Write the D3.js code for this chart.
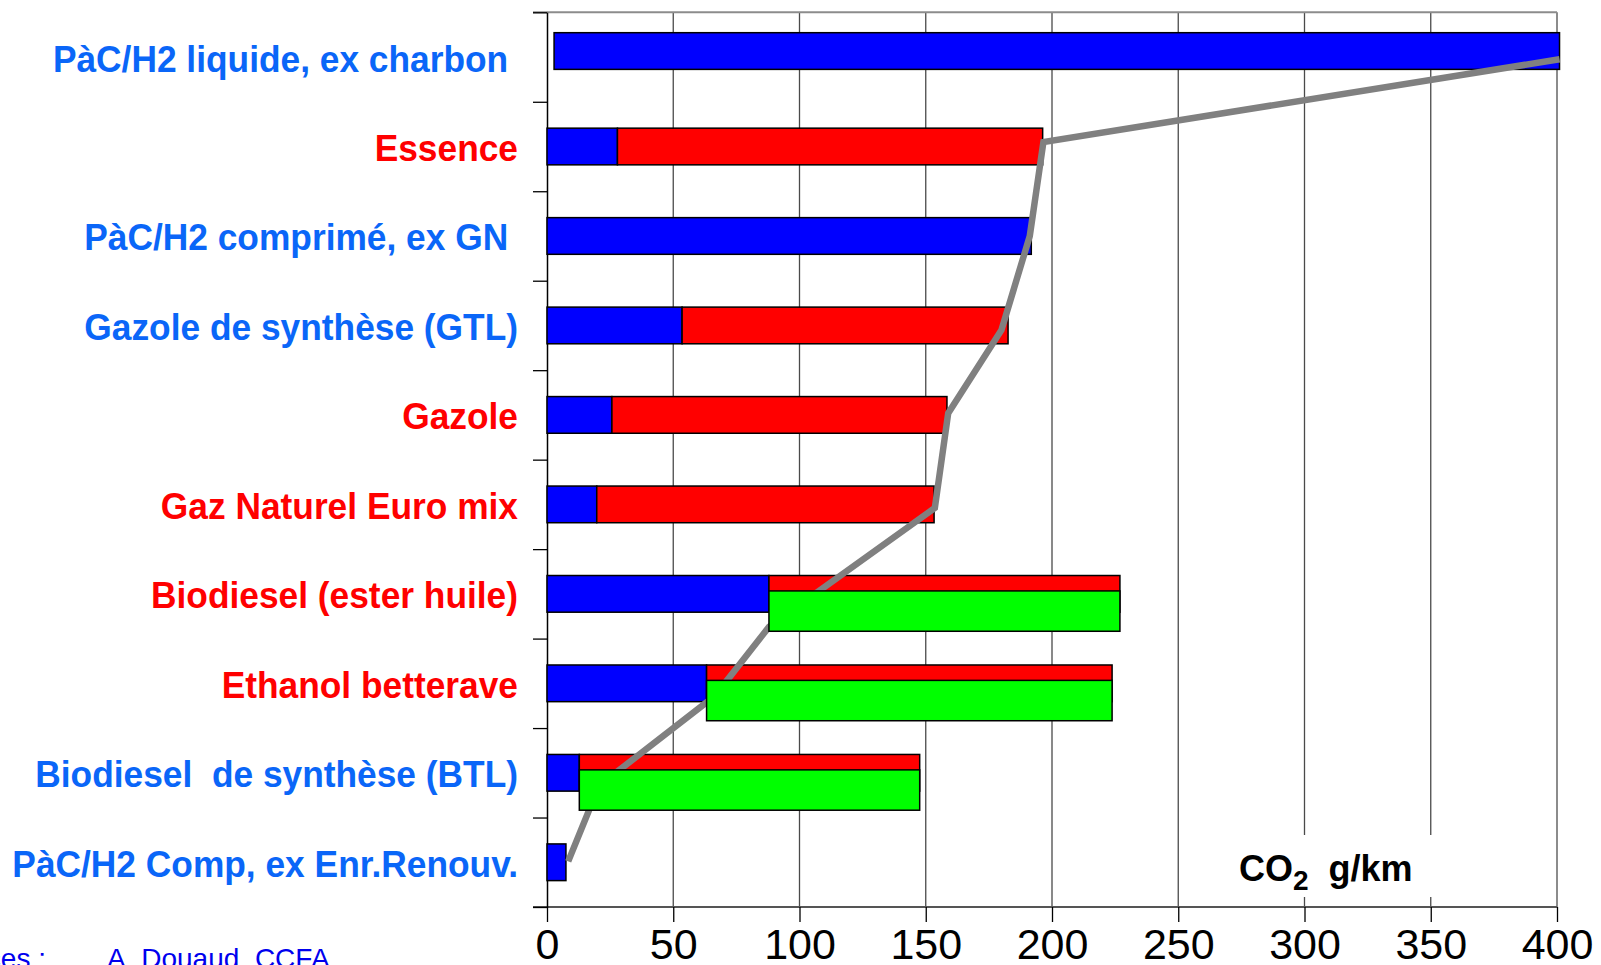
<!DOCTYPE html>
<html>
<head>
<meta charset="utf-8">
<script src="https://cdn.jsdelivr.net/npm/d3@7/dist/d3.min.js"></script>
<style>
    body { margin: 0; background: #fff; }
    text { font-family: "Liberation Sans", Arial, sans-serif; }
</style>
</head>
<body>
<svg id="chart"></svg>
<script>
// categories, top to bottom
var categories = [
    "PàC/H2 liquide, ex charbon ",
    "Essence",
    "PàC/H2 comprimé, ex GN ",
    "Gazole de synthèse (GTL)",
    "Gazole",
    "Gaz Naturel Euro mix",
    "Biodiesel (ester huile)",
    "Ethanol betterave",
    "Biodiesel  de synthèse (BTL)",
    "PàC/H2 Comp, ex Enr.Renouv."
];
var labelKinds = ["nouveau", "classique", "nouveau", "nouveau", "classique",
                  "classique", "classique", "classique", "nouveau", "nouveau"];

// g CO2 / km
var blueStart = [2.8, 0, 0, 0, 0, 0, 0, 0, 0, 0];
var blueEnd   = [401, 27.9, 191.8, 53.5, 25.7, 19.7, 87.9, 63.2, 12.8, 7.5];
var redValues = [0, 168.4, 0, 129.1, 132.7, 133.6, 139, 160.6, 134.8, 0];
var greenValues = [0, 0, 0, 0, 0, 0, 139, 160.6, 134.8, 0];

// grey line : value and row position (row i spans i..i+1)
var lineValues = [401, 196.6, 191.2, 180, 158.9, 153.6, 87.9, 66.5, 20.6, 8.4];
var lineRows   = [0.525, 1.45, 2.5, 3.55, 4.48, 5.54, 6.87, 7.64, 8.645, 9.49];

var xTicks = [0, 50, 100, 150, 200, 250, 300, 350, 400];

(function () {
    var W = 1601, H = 965;
    var plot = { left: 547, right: 1557, top: 12.3, bottom: 907 };

    var svg = d3.select("#chart").attr("width", W).attr("height", H);

    var x = d3.scaleLinear().domain([0, 400]).range([plot.left, plot.right]);
    var y = d3.scaleBand().domain(categories).range([plot.top, plot.bottom]);
    var yRow = d3.scaleLinear().domain([0, categories.length]).range([plot.top, plot.bottom]);
    var labelColor = d3.scaleOrdinal().domain(["nouveau", "classique"]).range(["#0a66f8", "#ff0000"]);

    var barH = y.bandwidth() * 0.41;
    function barTop(c, i) {
        // the first bar sits a little higher in the original
        return y(c) + (y.bandwidth() - barH) / 2 - (i === 0 ? 6 : 0);
    }

    // vertical grid
    svg.append("g").selectAll("line").data(xTicks.slice(1, -1)).enter().append("line")
        .attr("x1", function (d) { return x(d); }).attr("x2", function (d) { return x(d); })
        .attr("y1", plot.top).attr("y2", plot.bottom)
        .attr("stroke", "#4a4a4a").attr("stroke-width", 1.3);

    // white box behind unit label
    svg.append("rect").attr("x", 1230).attr("y", 835).attr("width", 235).attr("height", 62)
        .attr("fill", "#fff");

    // top and right borders
    svg.append("line").attr("x1", plot.left - 14).attr("x2", plot.right)
        .attr("y1", plot.top).attr("y2", plot.top)
        .attr("stroke", "#8c8c8c").attr("stroke-width", 2);
    svg.append("line").attr("x1", plot.right).attr("x2", plot.right)
        .attr("y1", plot.top).attr("y2", plot.bottom)
        .attr("stroke", "#8c8c8c").attr("stroke-width", 2);

    // axes
    var xaxis = d3.axisBottom(x).tickValues(xTicks).tickSize(15).tickSizeOuter(0).tickPadding(6);
    var gx = svg.append("g").attr("transform", "translate(0," + plot.bottom + ")").call(xaxis);
    gx.select(".domain").attr("stroke", "#555").attr("stroke-width", 2)
        .attr("d", "M" + (plot.left - 14) + ",0H" + plot.right);
    gx.selectAll(".tick line").attr("stroke", "#000").attr("stroke-width", 1.3);
    gx.selectAll(".tick text").attr("fill", "#000").style("font-size", "43px")
        .style("font-family", "'Liberation Sans', Arial, sans-serif");

    var yaxis = d3.axisLeft(yRow).tickValues(d3.range(categories.length + 1)).tickSize(14)
        .tickSizeOuter(0).tickFormat("");
    var gy = svg.append("g").attr("transform", "translate(" + plot.left + ",0)").call(yaxis);
    gy.select(".domain").attr("stroke", "#000").attr("stroke-width", 1.5);
    gy.selectAll(".tick line").attr("stroke", "#000").attr("stroke-width", 1.3);

    var rows = categories.map(function (c, i) {
        return { c: c, i: i, b0: blueStart[i], b1: blueEnd[i], r: redValues[i], g: greenValues[i] };
    });

    // blue bars
    svg.append("g").selectAll("rect").data(rows).enter().append("rect")
        .attr("x", function (d) { return x(d.b0); })
        .attr("y", function (d) { return barTop(d.c, d.i); })
        .attr("width", function (d) { return x(d.b1) - x(d.b0); })
        .attr("height", barH)
        .attr("fill", "#0000ff").attr("stroke", "#000").attr("stroke-width", 1.5);

    // red bars
    svg.append("g").selectAll("rect").data(rows.filter(function (d) { return d.r > 0; })).enter().append("rect")
        .attr("x", function (d) { return x(d.b1); })
        .attr("y", function (d) { return barTop(d.c, d.i); })
        .attr("width", function (d) { return x(d.b1 + d.r) - x(d.b1); })
        .attr("height", barH)
        .attr("fill", "#ff0000").attr("stroke", "#000").attr("stroke-width", 1.5);

    // grey line
    var pts = lineValues.map(function (v, i) { return [v, lineRows[i]]; });
    var line = d3.line().x(function (d) { return x(d[0]); }).y(function (d) { return yRow(d[1]); });
    svg.append("path").datum(pts).attr("d", line)
        .attr("fill", "none").attr("stroke", "#808080").attr("stroke-width", 6.5);

    // green bars (over the line)
    svg.append("g").selectAll("rect").data(rows.filter(function (d) { return d.g > 0; })).enter().append("rect")
        .attr("x", function (d) { return x(d.b1); })
        .attr("y", function (d) { return barTop(d.c, d.i) + barH * 0.42; })
        .attr("width", function (d) { return x(d.b1 + d.g) - x(d.b1); })
        .attr("height", barH * 1.1)
        .attr("fill", "#00ff00").attr("stroke", "#000").attr("stroke-width", 1.5);

    // category labels
    svg.append("g").selectAll("text").data(categories).enter().append("text")
        .attr("transform", function (d) {
            return "translate(518," + (y(d) + y.bandwidth() / 2 + 14.5) + ") scale(0.955,1)";
        })
        .attr("text-anchor", "end")
        .style("white-space", "pre")
        .style("font-size", "37px").style("font-weight", "bold")
        .attr("fill", function (d, i) { return labelColor(labelKinds[i]); })
        .text(function (d) { return d; });

    // unit label
    var unit = svg.append("text").attr("x", 1239).attr("y", 881)
        .style("font-size", "36px").style("font-weight", "bold").style("white-space", "pre")
        .attr("fill", "#000");
    unit.append("tspan").text("CO");
    unit.append("tspan").attr("dy", 9).style("font-size", "28px").text("2");
    unit.append("tspan").attr("dy", -9).text("  g/km");

    // source
    svg.append("text").attr("x", 46).attr("y", 968).attr("text-anchor", "end")
        .style("font-size", "28px").attr("fill", "#0000ee").text("Sources :");
    svg.append("text").attr("x", 107).attr("y", 968)
        .style("font-size", "28px").attr("fill", "#0000ee").text("A. Douaud, CCFA");
})();
</script>
</body>
</html>
